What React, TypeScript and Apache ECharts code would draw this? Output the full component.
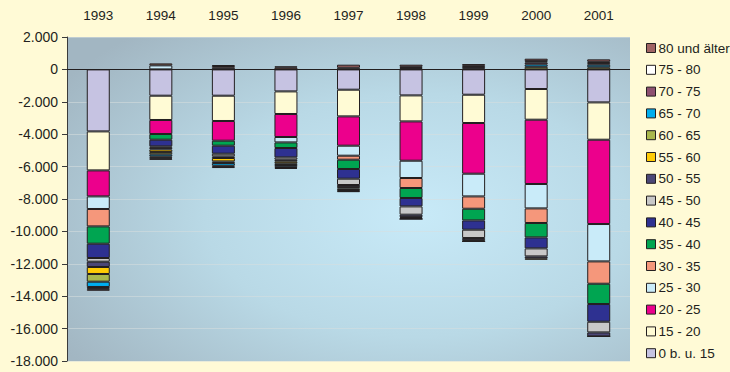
import React, { useEffect, useRef } from "react";
import * as echarts from "echarts";

// Jahre (Kategorien)
const years = ["1993", "1994", "1995", "1996", "1997", "1998", "1999", "2000", "2001"];

// Altersgruppen in Stapelreihenfolge (von der Nulllinie aus)
const ageGroups = [
  "0 b. u. 15",
  "15 - 20",
  "20 - 25",
  "25 - 30",
  "30 - 35",
  "35 - 40",
  "40 - 45",
  "45 - 50",
  "50 - 55",
  "55 - 60",
  "60 - 65",
  "65 - 70",
  "70 - 75",
  "75 - 80",
  "80 und älter",
];

// Saldo je Altersgruppe und Jahr
const age0to15 = [-3827, -1623, -1623, -1358, -1253, -1605, -1562, -1210, -2037];
const age15to20 = [-2407, -1500, -1562, -1395, -1647, -1605, -1747, -1895, -2303];
const age20to25 = [-1605, -865, -1216, -1420, -1810, -2426, -3129, -3969, -5205];
const age25to30 = [-778, 250, 100, -333, -617, -1068, -1402, -1506, -2307];
const age30to35 = [-1074, 120, 110, 110, -247, -617, -760, -901, -1378];
const age35to40 = [-1068, -352, -309, -346, -574, -617, -721, -889, -1253];
const age40to45 = [-883, -413, -494, -580, -599, -519, -574, -679, -1093];
const age45to50 = [-228, -90, -166, -142, -389, -512, -515, -494, -659];
const age50to55 = [-327, -100, -100, -100, -130, -150, -130, -120, -247];
const age55to60 = [-432, -160, -210, -120, -80, -60, -77, -87, 0];
const age60to65 = [-475, -140, -100, -110, -100, -56, 0, 160, 130];
const age65to70 = [-327, -130, -165, -110, -70, 0, 60, 150, 160];
const age70to75 = [-80, -80, -70, -70, -52, 80, 80, 120, 100];
const age75to80 = [-60, -50, -75, -64, 100, 80, 80, 80, 80];
const age80plus = [-90, -80, 60, 80, 190, 130, 110, 150, 150];

const seriesValues = [
  age0to15,
  age15to20,
  age20to25,
  age25to30,
  age30to35,
  age35to40,
  age40to45,
  age45to50,
  age50to55,
  age55to60,
  age60to65,
  age65to70,
  age70to75,
  age75to80,
  age80plus,
];

const groupColors = [
  "#c6c3e2",
  "#fffbd5",
  "#ec008c",
  "#c9ebf9",
  "#f5977b",
  "#00a551",
  "#2e3191",
  "#c8c8c8",
  "#4b4777",
  "#ffcb05",
  "#aab84d",
  "#00aeef",
  "#8d5070",
  "#ffffff",
  "#a06464",
];

// Y-Achse
const yMin = -18000;
const yMax = 2000;
const yStep = 2000;

const FONT = "'Liberation Sans', Arial, sans-serif";
const TEXT_COLOR = "#231f20";

const formatThousands = (v: number) => {
  const sign = v < 0 ? "-" : "";
  const s = String(Math.abs(v));
  return sign + s.replace(/\B(?=(\d{3})+(?!\d))/g, ".");
};

export default function App() {
  const ref = useRef<HTMLDivElement>(null);

  useEffect(() => {
    if (!ref.current) return;
    const chart = echarts.init(ref.current, undefined, { renderer: "svg" });

    const series: any[] = ageGroups.map((name, i) => ({
      name,
      type: "bar",
      stack: "saldo",
      barWidth: 23,
      data: seriesValues[i],
      itemStyle: {
        color: groupColors[i],
        borderColor: "#231f20",
        borderWidth: 1,
      },
      ...(i === 0
        ? {
            markLine: {
              silent: true,
              symbol: "none",
              label: { show: false },
              lineStyle: { color: "#231f20", width: 1, type: "solid" },
              data: [{ yAxis: 0 }],
            },
          }
        : {}),
    }));

    chart.setOption({
      animation: false,
      backgroundColor: "#fffad6",
      textStyle: { fontFamily: FONT, color: TEXT_COLOR },
      grid: {
        left: 67,
        right: 100,
        top: 37,
        bottom: 11,
        show: true,
        borderWidth: 0,
        backgroundColor: new echarts.graphic.RadialGradient(0.62, 0.55, 0.75, [
          { offset: 0, color: "#c8eaf8" },
          { offset: 0.5, color: "#b9d9e6" },
          { offset: 1, color: "#a2b6c2" },
        ]),
      },
      legend: {
        orient: "vertical",
        left: 641,
        top: 36,
        itemWidth: 9,
        itemHeight: 9,
        itemGap: 7.8,
        icon: "rect",
        data: [...ageGroups].reverse(),
        itemStyle: { borderColor: "#231f20", borderWidth: 1 },
        textStyle: {
          fontFamily: FONT,
          fontSize: 13.5,
          lineHeight: 14,
          color: TEXT_COLOR,
          padding: [0, 0, 0, -2],
        },
      },
      xAxis: {
        type: "category",
        position: "top",
        data: years,
        axisLine: { show: false },
        axisTick: { show: false },
        axisLabel: {
          fontFamily: FONT,
          fontSize: 13.5,
          color: TEXT_COLOR,
          margin: 15,
        },
      },
      yAxis: {
        type: "value",
        min: yMin,
        max: yMax,
        interval: yStep,
        axisLine: { show: true, lineStyle: { color: "#3a3a3a", width: 1 } },
        axisTick: { show: true, length: 5, lineStyle: { color: "#3a3a3a" } },
        splitLine: { show: true, lineStyle: { color: "rgba(215,222,222,0.55)", width: 1 } },
        axisLabel: {
          fontFamily: FONT,
          fontSize: 14,
          color: TEXT_COLOR,
          margin: 9,
          formatter: (v: number) => formatThousands(v),
        },
      },
      series,
    });

    return () => chart.dispose();
  }, []);

  return (
    <div
      ref={ref}
      style={{ position: "fixed", left: 0, top: 0, width: 730, height: 372 }}
    />
  );
}
